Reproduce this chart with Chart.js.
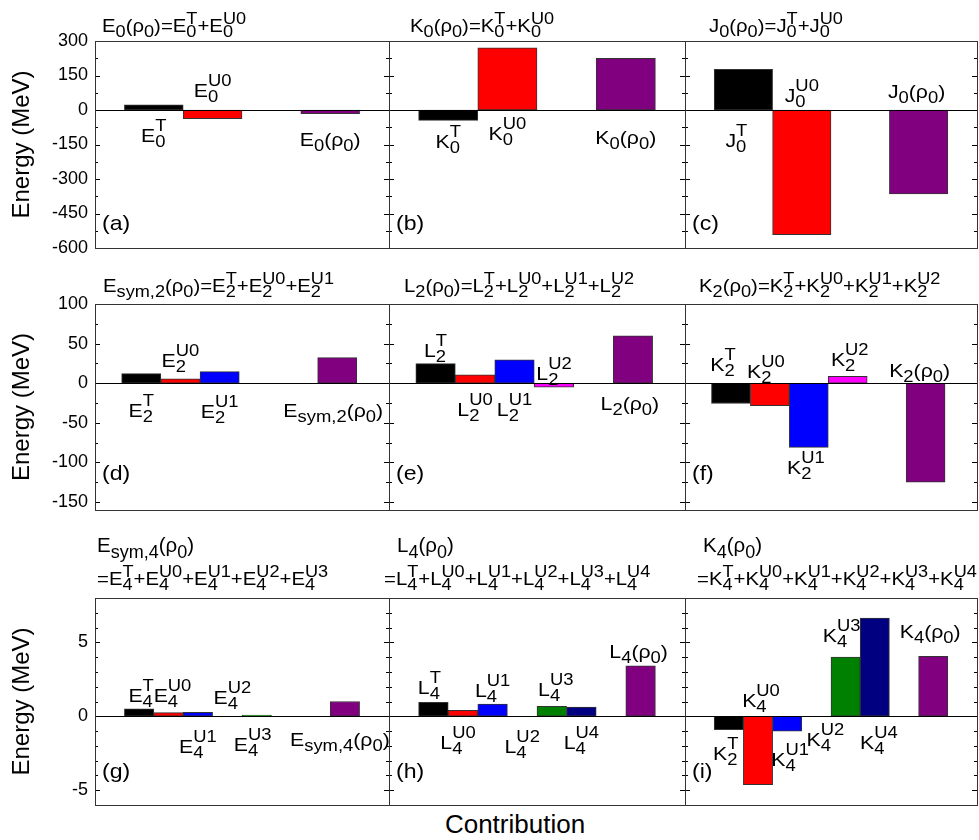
<!DOCTYPE html>
<html>
<head>
<meta charset="utf-8">
<script src="https://cdn.jsdelivr.net/npm/chart.js@4.4.1/dist/chart.umd.min.js"></script>
<style>
  body { margin: 0; background: #fff; }
  #fig { position: relative; width: 979px; height: 840px; overflow: hidden; }
  #fig canvas { position: absolute; }
  #xlabel { position: absolute; left: 395px; width: 240px; top: 809px; text-align: center;
    font: 26px "Liberation Sans", Arial, sans-serif; color: #000; }
</style>
</head>
<body>
<div id="fig"><div id="xlabel">Contribution</div></div>
<script>
// ---- data (MeV) ----
// slot keys per row: index = position along the panel, '' = empty slot
const row1Keys = ['', 'T', 'U0', '', 'tot'];
const row2Keys = ['', 'T', 'U0', 'U1', 'U2', '', 'tot'];
const row3Keys = ['', 'T', 'U0', 'U1', 'U2', 'U3', 'U4', '', 'tot'];

const row1Ticks = [-600, -450, -300, -150, 0, 150, 300];
const row2Ticks = [-150, -100, -50, 0, 50, 100];
const row3Ticks = [-5, 0, 5];

// (a) E0
const catsA = ['', 'E_{0}^{T}', 'E_{0}^{U0}', '', 'E_{0}(ρ_{0})'];
const valsA = [null, 22, -38, null, -16];
// (b) K0
const catsB = ['', 'K_{0}^{T}', 'K_{0}^{U0}', '', 'K_{0}(ρ_{0})'];
const valsB = [null, -45, 270, null, 225];
// (c) J0
const catsC = ['', 'J_{0}^{T}', 'J_{0}^{U0}', '', 'J_{0}(ρ_{0})'];
const valsC = [null, 177, -542, null, -365];
// (d) Esym,2
const catsD = ['', 'E_{2}^{T}', 'E_{2}^{U0}', 'E_{2}^{U1}', '', '', 'E_{sym,2}(ρ_{0})'];
const valsD = [null, 12.2, 5.5, 14.7, null, null, 32.4];
// (e) L2
const catsE = ['', 'L_{2}^{T}', 'L_{2}^{U0}', 'L_{2}^{U1}', 'L_{2}^{U2}', '', 'L_{2}(ρ_{0})'];
const valsE = [null, 24.8, 10.5, 29.4, -5, null, 59.7];
// (f) K2
const catsF = ['', 'K_{2}^{T}', 'K_{2}^{U0}', 'K_{2}^{U1}', 'K_{2}^{U2}', '', 'K_{2}(ρ_{0})'];
const valsF = [null, -25.6, -28.2, -81, 8.8, null, -125];
// (g) Esym,4
const catsG = ['', 'E_{4}^{T}', 'E_{4}^{U0}', 'E_{4}^{U1}', 'E_{4}^{U2}', 'E_{4}^{U3}', '', '', 'E_{sym,4}(ρ_{0})'];
const valsG = [null, 0.5, 0.25, 0.27, 0, 0.08, null, null, 1.0];
// (h) L4
const catsH = ['', 'L_{4}^{T}', 'L_{4}^{U0}', 'L_{4}^{U1}', 'L_{4}^{U2}', 'L_{4}^{U3}', 'L_{4}^{U4}', '', 'L_{4}(ρ_{0})'];
const valsH = [null, 0.94, 0.40, 0.83, 0, 0.67, 0.63, null, 3.41];
// (i) K4
const catsI = ['', 'K_{2}^{T}', 'K_{4}^{U0}', 'K_{4}^{U1}', 'K_{4}^{U2}', 'K_{4}^{U3}', 'K_{4}^{U4}', '', 'K_{4}(ρ_{0})'];
const valsI = [null, -0.9, -4.62, -1.01, 0, 4.01, 6.64, null, 4.06];

const titles = [
  ['E_{0}(ρ_{0})=E_{0}^{T}+E_{0}^{U0}'],
  ['K_{0}(ρ_{0})=K_{0}^{T}+K_{0}^{U0}'],
  ['J_{0}(ρ_{0})=J_{0}^{T}+J_{0}^{U0}'],
  ['E_{sym,2}(ρ_{0})=E_{2}^{T}+E_{2}^{U0}+E_{2}^{U1}'],
  ['L_{2}(ρ_{0})=L_{2}^{T}+L_{2}^{U0}+L_{2}^{U1}+L_{2}^{U2}'],
  ['K_{2}(ρ_{0})=K_{2}^{T}+K_{2}^{U0}+K_{2}^{U1}+K_{2}^{U2}'],
  ['E_{sym,4}(ρ_{0})', '=E_{4}^{T}+E_{4}^{U0}+E_{4}^{U1}+E_{4}^{U2}+E_{4}^{U3}'],
  ['L_{4}(ρ_{0})', '=L_{4}^{T}+L_{4}^{U0}+L_{4}^{U1}+L_{4}^{U2}+L_{4}^{U3}+L_{4}^{U4}'],
  ['K_{4}(ρ_{0})', '=K_{4}^{T}+K_{4}^{U0}+K_{4}^{U1}+K_{4}^{U2}+K_{4}^{U3}+K_{4}^{U4}']
];

// ---- layout / style ----
const family = '"Liberation Sans", Arial, sans-serif';
const colors = { T: '#000000', U0: '#ff0000', U1: '#0000ff', U2: '#ff00ff', U3: '#008000', U4: '#000080', tot: '#800080' };
const colX = [[95, 389], [389, 685], [685, 977]];
const rows = [
  { y: [41, 248], min: -600, max: 300, ticks: row1Ticks, minor: 75, major: 150, xmin: 0, xmax: 5, keys: row1Keys, tagDy: 24, titleDy: [-9] },
  { y: [304, 510], min: -160, max: 100, ticks: row2Ticks, minor: 25, major: 50, xmin: -0.18, xmax: 7.32, keys: row2Keys, tagDy: 36, titleDy: [-12] },
  { y: [598, 805], min: -6, max: 8, ticks: row3Ticks, minor: 1, major: 5, xmin: -0.5, xmax: 9.5, keys: row3Keys, tagDy: 33, titleDy: [-46, -13] }
];
// label nudges in px: slot -> [dx, dy]
const panels = [
  { cats: catsA, vals: valsA, sides: '.du.d', tag: '(a)', tdx: [7], nudge: { 2: [0, -3] } },
  { cats: catsB, vals: valsB, sides: '.dd.d', tag: '(b)', tdx: [21], nudge: { 1: [0, -4], 2: [0, -2], 4: [0, 2] } },
  { cats: catsC, vals: valsC, sides: '.du.u', tag: '(c)', tdx: [24], nudge: { 1: [-7, 5], 2: [0, 2], 4: [-2, -2] } },
  { cats: catsD, vals: valsD, sides: '.dud..d', tag: '(d)', tdx: [8], nudge: { 1: [0, 2], 2: [0, -2], 3: [0, 3], 6: [-4, 2] } },
  { cats: catsE, vals: valsE, sides: '.uddu.d', tag: '(e)', tdx: [15], nudge: { 1: [0, 3], 2: [0, 1], 3: [0, 1], 4: [0, 7], 6: [-3, -5] } },
  { cats: catsF, vals: valsF, sides: '.uudu.u', tag: '(f)', tdx: [14], nudge: { 1: [-8, -2], 2: [-4, 5], 3: [-3, -5], 4: [2, 0], 6: [-6, 4] } },
  { cats: catsG, vals: valsG, sides: '.uudud..d', tag: '(g)', tdx: [2, 2], nudge: { 1: [2, 3], 2: [4, -1], 3: [0, 5], 4: [5, -2], 5: [-4, 3], 8: [-5, -2] } },
  { cats: catsH, vals: valsH, sides: '.ududud.u', tag: '(h)', tdx: [8, -5], nudge: { 1: [-4, 2], 2: [-5, 1], 3: [0, 3], 4: [0, 5], 5: [4, 0], 6: [0, 1], 8: [-2, 2] } },
  { cats: catsI, vals: valsI, sides: '.duddud.u', tag: '(i)', tdx: [18, 12], nudge: { 1: [-3, -2], 2: [3, 1], 3: [3, 3], 4: [9, -2], 5: [-4, -5], 6: [4, 1], 8: [-3, -8] } }
];
const titleStyle = { big: 18.5, small: 16.5, sub: 5, sup: -8.5, sx: 1.1 };
const title3Style = { big: 20.5, small: 18, sub: 5.5, sup: -9, sx: 1.0 };
const labelStyle = { big: 18.5, small: 16, sub: 5, sup: -11, sx: 1.15 };

// split "E_{0}^{T}" into runs: a character with optional sub / sup attached
function richRuns(s) {
  const out = [];
  let i = 0;
  while (i < s.length) {
    const c = s[i];
    if ((c === '_' || c === '^') && s[i + 1] === '{') {
      const end = s.indexOf('}', i);
      const txt = s.slice(i + 2, end);
      const last = out[out.length - 1];
      if (c === '_') last.sub = txt; else last.sup = txt;
      i = end + 1;
    } else {
      out.push({ t: c });
      i++;
    }
  }
  return out;
}

function richWidth(ctx, runs, st) {
  let w = 0;
  runs.forEach(r => {
    ctx.font = st.big + 'px ' + family;
    w += ctx.measureText(r.t).width;
    if (r.sub || r.sup) {
      ctx.font = st.small + 'px ' + family;
      w += Math.max(r.sub ? ctx.measureText(r.sub).width : 0, r.sup ? ctx.measureText(r.sup).width : 0);
    }
  });
  return w * st.sx;
}

function drawRich(ctx, s, x, y, st, center) {
  const runs = richRuns(s);
  const w = richWidth(ctx, runs, st);
  ctx.save();
  ctx.translate(center ? x - w / 2 : x, y);
  ctx.scale(st.sx, 1);
  ctx.fillStyle = '#000';
  ctx.textAlign = 'left';
  ctx.textBaseline = 'alphabetic';
  let cx = 0;
  runs.forEach(r => {
    ctx.font = st.big + 'px ' + family;
    ctx.fillText(r.t, cx, 0);
    cx += ctx.measureText(r.t).width;
    if (r.sub || r.sup) {
      ctx.font = st.small + 'px ' + family;
      let adv = 0;
      if (r.sub) { ctx.fillText(r.sub, cx, st.sub); adv = ctx.measureText(r.sub).width; }
      if (r.sup) { ctx.fillText(r.sup, cx, st.sup); adv = Math.max(adv, ctx.measureText(r.sup).width); }
      cx += adv;
    }
  });
  ctx.restore();
}

// frame, zero line, inward ticks, labels, titles
const deco = {
  id: 'deco',
  afterDatasetsDraw(chart, args, o) {
    const { ctx, chartArea: a } = chart;
    const y = chart.scales.y;
    ctx.save();
    ctx.strokeStyle = '#000';
    ctx.lineWidth = 1;
    ctx.beginPath();
    const z = Math.round(y.getPixelForValue(0)) + 0.5;
    ctx.moveTo(a.left, z); ctx.lineTo(a.right, z);
    const n0 = Math.ceil(o.row.min / o.row.minor), n1 = Math.floor(o.row.max / o.row.minor);
    for (let k = n0; k <= n1; k++) {
      const v = k * o.row.minor;
      const py = Math.round(y.getPixelForValue(v)) + 0.5;
      const len = (v % o.row.major === 0) ? 5 : 3;
      ctx.moveTo(a.left, py); ctx.lineTo(a.left + len, py);
      ctx.moveTo(a.right, py); ctx.lineTo(a.right - len, py);
    }
    ctx.stroke();
    ctx.strokeStyle = '#333';
    ctx.strokeRect(Math.round(a.left) + 0.5, Math.round(a.top) + 0.5, Math.round(a.right - a.left), Math.round(a.bottom - a.top));
    ctx.restore();

    // bar labels, placed from the bar elements
    const meta = chart.getDatasetMeta(0);
    meta.data.forEach((el, j) => {
      const slot = o.slots[j];
      const nd = o.nudge[slot] || [0, 0];
      const s = o.cats[slot];
      const py = o.sides[slot] === 'u' ? Math.min(el.y, el.base) - 10 : Math.max(el.y, el.base) + 32;
      drawRich(ctx, s, el.x + nd[0], py + nd[1], labelStyle, true);
    });

    // titles and tag
    o.title.forEach((t, k) => {
      const st = (o.title.length > 1 && k === 0) ? title3Style : titleStyle;
      drawRich(ctx, t, a.left + o.tdx[k], a.top + o.row.titleDy[k], st, false);
    });
    ctx.save();
    ctx.font = '21px ' + family;
    ctx.fillStyle = '#000';
    ctx.textBaseline = 'middle';
    ctx.translate(a.left + 7, a.bottom - o.row.tagDy);
    ctx.scale(1.1, 1);
    ctx.fillText(o.tag, 0, 0);
    ctx.restore();
  }
};

const fig = document.getElementById('fig');
panels.forEach((p, idx) => {
  const r = rows[Math.floor(idx / 3)];
  const c = idx % 3;
  const left = c === 0 ? 0 : colX[c][0] - 6;
  const width = colX[c][1] + 6 - left;
  const top = r.y[0] - 70;
  const height = r.y[1] + 6 - top;
  const cv = document.createElement('canvas');
  cv.width = width; cv.height = height;
  cv.style.left = left + 'px'; cv.style.top = top + 'px';
  fig.appendChild(cv);

  const pts = [], slots = [], fills = [];
  p.vals.forEach((v, i) => {
    if (v === null) return;
    pts.push({ x: i, y: v });
    slots.push(i);
    fills.push(colors[r.keys[i]]);
  });

  new Chart(cv, {
    type: 'bar',
    data: {
      datasets: [{
        data: pts,
        backgroundColor: fills,
        borderColor: '#333',
        borderWidth: 1,
        borderSkipped: false,
        barPercentage: 1,
        categoryPercentage: 1
      }]
    },
    options: {
      responsive: false,
      animation: false,
      layout: { padding: { left: c === 0 ? 0 : 6, right: 6, top: 70, bottom: 6 } },
      plugins: {
        legend: { display: false },
        tooltip: { enabled: false },
        deco: { row: r, cats: p.cats, sides: p.sides, slots: slots, nudge: p.nudge, title: titles[idx], tdx: p.tdx, tag: p.tag }
      },
      scales: {
        x: {
          type: 'linear', min: r.xmin, max: r.xmax, display: false, offset: false,
          afterBuildTicks: s => { s.ticks = r.keys.map((k, i) => ({ value: i })); }
        },
        y: {
          min: r.min, max: r.max,
          display: c === 0,
          afterBuildTicks: s => { s.ticks = r.ticks.map(v => ({ value: v })); },
          afterFit: s => {
            if (c === 0) s.width = 95;
            s.paddingTop = 0;
            s.paddingBottom = 0;
          },
          grid: { display: false, drawTicks: false },
          border: { display: false },
          ticks: { color: '#000', padding: 7, font: { family: family, size: 18 } },
          title: { display: c === 0, text: 'Energy (MeV)', color: '#000', padding: { top: 8, bottom: 0 }, font: { family: family, size: 24 } }
        }
      }
    },
    plugins: [deco]
  });
});
</script>
</body>
</html>
